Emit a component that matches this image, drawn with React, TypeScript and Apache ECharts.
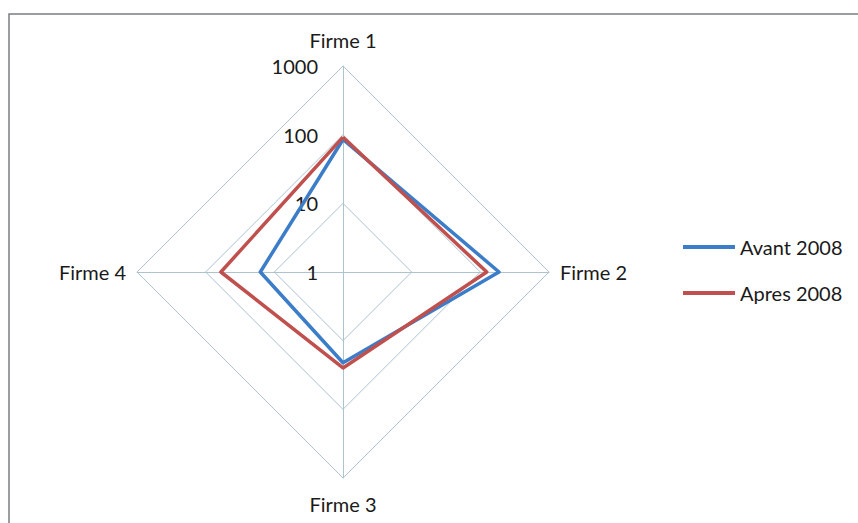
import React, { useEffect, useRef } from "react";
import * as echarts from "echarts";

const categories = ["Firme 1", "Firme 2", "Firme 3", "Firme 4"];
const avant2008 = [85, 187, 21, 16];
const apres2008 = [92, 124, 25, 60];
const tickLabels = ["1", "10", "100", "1000"];
const seriesNames = ["Avant 2008", "Apres 2008"];
const colors = ["#3b7dc8", "#c0504d"];

// ECharts radar lays indicators out counter-clockwise from the top;
// the reference goes clockwise, so present them in order 1, 4, 3, 2.
const order = [0, 3, 2, 1];
const nameGaps = [16, 11, 16, 11];

export default function App() {
  const ref = useRef<HTMLDivElement>(null);
  useEffect(() => {
    const chart = echarts.init(ref.current!, null, { renderer: "svg" });
    const font = "Lato, 'Open Sans', sans-serif";
    const maxLog = tickLabels.length - 1;
    chart.setOption({
      animation: false,
      backgroundColor: "#ffffff",
      textStyle: { fontFamily: font },
      graphic: [
        {
          type: "rect",
          shape: { x: 9, y: 14, width: 900, height: 600 },
          style: { fill: "none", stroke: "#7a7f82", lineWidth: 1.5 },
          silent: true,
        },
      ],
      legend: {
        orient: "vertical",
        left: 683,
        top: 237,
        padding: 0,
        itemWidth: 52,
        itemHeight: 4,
        itemGap: 26,
        icon: "rect",
        data: seriesNames,
        textStyle: { fontSize: 20, color: "#1a1a1a", fontFamily: font },
      },
      radar: {
        center: [343, 272],
        radius: 206,
        shape: "polygon",
        startAngle: 90,
        splitNumber: maxLog,
        nameGap: 11,
        axisName: { color: "#1a1a1a", fontSize: 20, fontFamily: font },
        splitArea: { show: false },
        splitLine: { lineStyle: { color: "#adc3cf", width: 1 } },
        axisLine: { lineStyle: { color: "#adc3cf", width: 1 } },
        axisLabel: { show: false },
        indicator: order.map((i, k) => ({
          name: categories[i],
          min: 0,
          max: maxLog,
          nameGap: nameGaps[k],
          axisLabel:
            k === 0
              ? {
                  show: true,
                  showMinLabel: true,
                  color: "#1a1a1a",
                  fontSize: 20,
                  fontFamily: font,
                  margin: 25,
                  formatter: (v: number) => tickLabels[Math.round(v)] ?? "",
                }
              : { show: false },
        })),
      },
      series: [
        {
          type: "radar",
          symbol: "none",
          data: [
            {
              name: seriesNames[0],
              value: order.map((i) => Math.log10(avant2008[i])),
              lineStyle: { color: colors[0], width: 3.5 },
              itemStyle: { color: colors[0] },
            },
            {
              name: seriesNames[1],
              value: order.map((i) => Math.log10(apres2008[i])),
              lineStyle: { color: colors[1], width: 3.5 },
              itemStyle: { color: colors[1] },
            },
          ],
        },
      ],
    });
    return () => chart.dispose();
  }, []);
  return (
    <div
      ref={ref}
      style={{ position: "absolute", left: 0, top: 0, width: 858, height: 523 }}
    />
  );
}
